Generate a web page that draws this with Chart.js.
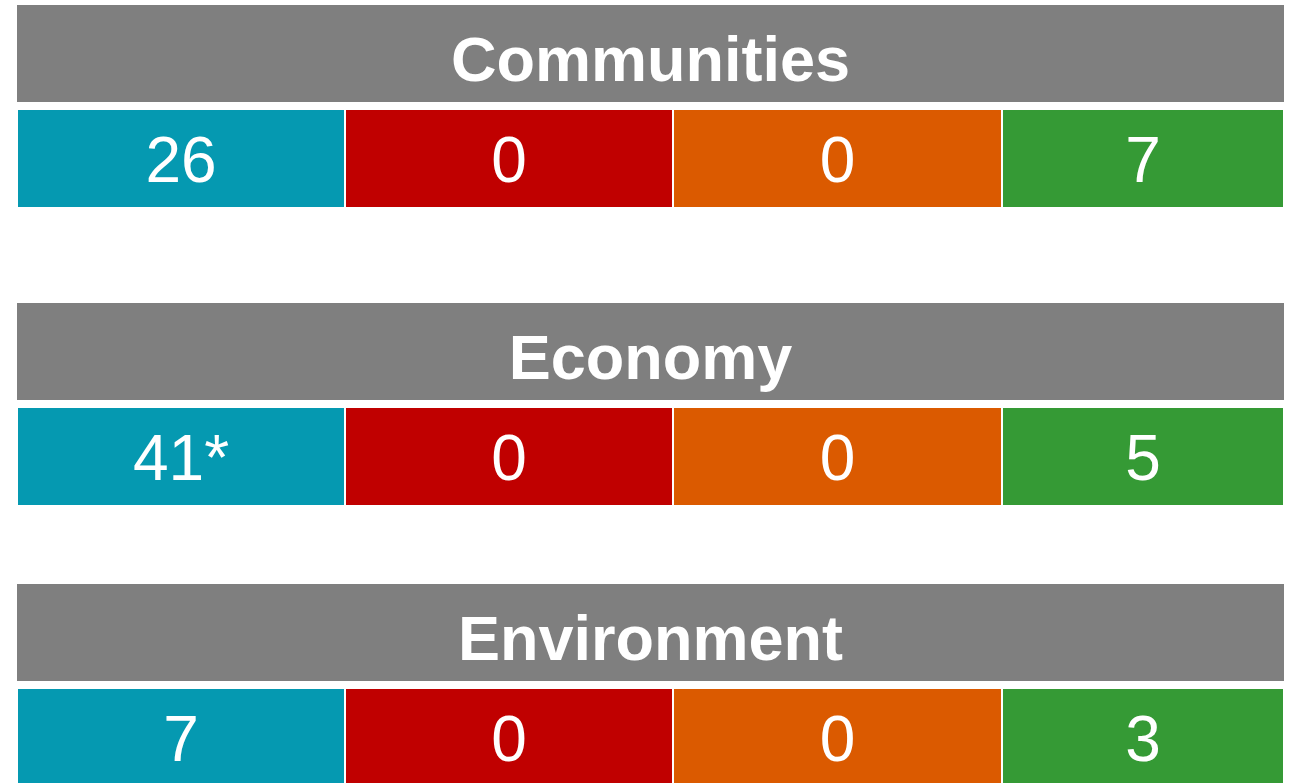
<!DOCTYPE html>
<html>
<head>
<meta charset="utf-8">
<script src="https://cdn.jsdelivr.net/npm/chart.js@4/dist/chart.umd.min.js"></script>
<style>
    html, body { margin: 0; padding: 0; background: #fff; }
    body { width: 1296px; height: 783px; overflow: hidden; position: relative; }
    .section { position: absolute; left: 17px; width: 1267px; height: 210px; }
</style>
</head>
<body>
<div class="section" style="top:1px"><canvas id="sec0"></canvas></div>
<div class="section" style="top:299px"><canvas id="sec1"></canvas></div>
<div class="section" style="top:580px"><canvas id="sec2"></canvas></div>

<script>
// ===== DATA =====
const sections = ["Communities", "Economy", "Environment"];
const countsTeal = [26, 41, 7];
const countsRed = [0, 0, 0];
const countsOrange = [0, 0, 0];
const countsGreen = [7, 5, 3];
const countNotes = ["", "*", ""];   // 41* carries a footnote mark

// ===== LAYOUT / STYLE =====
const colWidths = [328, 328, 329, 282];   // table column spans (px units of the x scale)
const tableWidth = colWidths.reduce((a, b) => a + b, 0);
const colColors = ["#0599B1", "#C00000", "#DB5A00", "#359A35"];
const headerColor = "#7F7F7F";

// draws the text of each cell in the middle of its bar
const cellText = {
    id: "cellText",
    afterDatasetsDraw(chart) {
        const ctx = chart.ctx;
        ctx.save();
        ctx.fillStyle = "#fff";
        ctx.textAlign = "center";
        ctx.textBaseline = "alphabetic";
        chart.data.datasets.forEach((ds, i) => {
            const meta = chart.getDatasetMeta(i);
            meta.data.forEach((bar, j) => {
                const txt = ds.cellLabels[j];
                if (txt === null || txt === undefined) return;
                const cx = (bar.x + bar.base) / 2;
                if (ds.isHeader) {
                    ctx.font = "bold 63px 'Liberation Sans', Arial, sans-serif";
                    ctx.fillText(txt, cx, bar.y + 27);
                } else {
                    ctx.font = "64px 'Liberation Sans', Arial, sans-serif";
                    ctx.fillText(txt, cx, bar.y + 23);
                }
            });
        });
        ctx.restore();
    }
};

function makeSection(idx) {
    const counts = [countsTeal[idx], countsRed[idx], countsOrange[idx], countsGreen[idx]];

    const datasets = [{
        label: "header",
        data: [tableWidth, null],
        backgroundColor: headerColor,
        borderWidth: 0,
        isHeader: true,
        cellLabels: [sections[idx], null]
    }];

    counts.forEach((c, k) => {
        datasets.push({
            label: "col" + k,
            data: [null, colWidths[k]],
            backgroundColor: colColors[k],
            borderColor: "#fff",
            borderWidth: { left: 1, right: 1, top: 0, bottom: 0 },
            borderSkipped: false,
            isHeader: false,
            cellLabels: [null, String(c) + (k === 0 ? countNotes[idx] : "")]
        });
    });

    new Chart(document.getElementById("sec" + idx), {
        type: "bar",
        data: { labels: [sections[idx], "counts"], datasets: datasets },
        options: {
            indexAxis: "y",
            responsive: true,
            maintainAspectRatio: false,
            animation: false,
            layout: { padding: 0 },
            datasets: { bar: { barPercentage: 97 / 105, categoryPercentage: 1 } },
            scales: {
                x: { stacked: true, min: 0, max: tableWidth, display: false },
                y: { stacked: true, display: false }
            },
            plugins: {
                legend: { display: false },
                tooltip: { enabled: false }
            }
        },
        plugins: [cellText]
    });
}

sections.forEach((s, i) => makeSection(i));
</script>
</body>
</html>
